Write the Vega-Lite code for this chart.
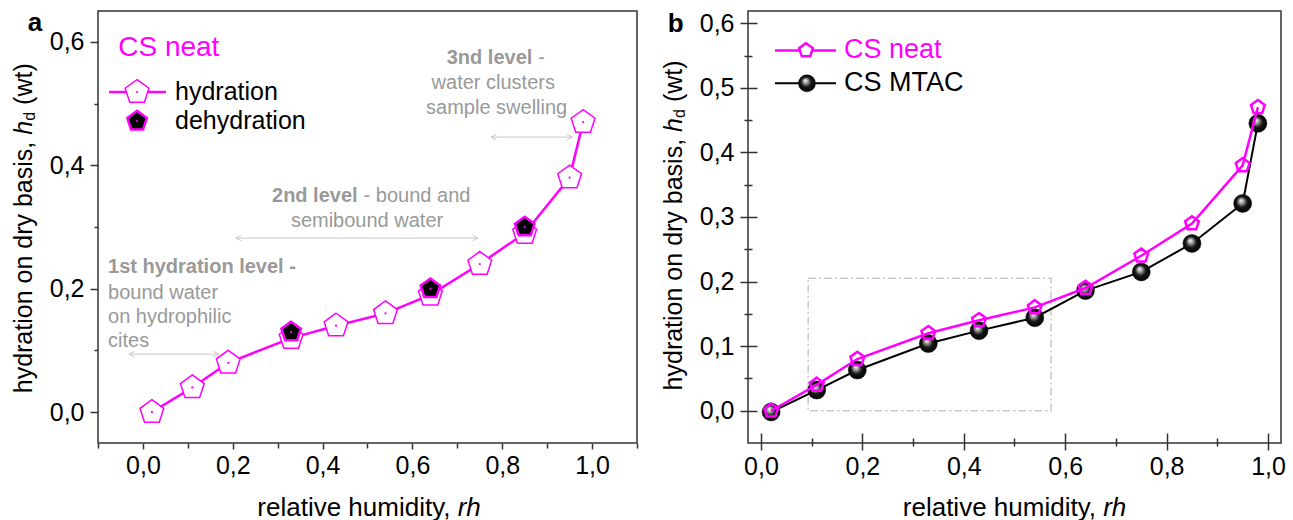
{
"$schema": "https://vega.github.io/schema/vega-lite/v6.json",
"background": "white",
"padding": {"left": 11, "top": 9, "right": 0, "bottom": 0},
"bounds": "flush",
"spacing": 111,
"config": {"view": {"stroke": "#333", "strokeWidth": 1.5}, "font": "Liberation Sans", "axis": {"labelFont": "Liberation Sans"}, "text": {"font": "Liberation Sans"}},
"datasets": {
 "hyd": [{"rh":0.02,"hd":0.0},{"rh":0.11,"hd":0.04},{"rh":0.19,"hd":0.08},{"rh":0.33,"hd":0.12},{"rh":0.43,"hd":0.14},{"rh":0.54,"hd":0.16},{"rh":0.64,"hd":0.19},{"rh":0.75,"hd":0.24},{"rh":0.85,"hd":0.29},{"rh":0.95,"hd":0.38},{"rh":0.98,"hd":0.47}],
 "dehyd": [{"rh":0.33,"hd":0.13},{"rh":0.64,"hd":0.2},{"rh":0.85,"hd":0.3}],
 "mtac": [{"rh":0.02,"hd":-0.002},{"rh":0.11,"hd":0.032},{"rh":0.19,"hd":0.063},{"rh":0.33,"hd":0.104},{"rh":0.43,"hd":0.124},{"rh":0.54,"hd":0.144},{"rh":0.64,"hd":0.186},{"rh":0.75,"hd":0.215},{"rh":0.85,"hd":0.259},{"rh":0.95,"hd":0.321},{"rh":0.98,"hd":0.445}],
 "a_arrows": [{"rh":0.775,"rh2":0.956,"hd":0.4457},{"rh":0.207,"rh2":0.746,"hd":0.282},{"rh":-0.031,"rh2":0.169,"hd":0.094}],
 "a_notes_center": [{"rh":0.78,"hd":0.533,"label":"water clusters"},{"rh":0.7875,"hd":0.4927,"label":"sample swelling"},{"rh":0.499,"hd":0.3096,"label":"semibound water"}],
 "a_notes_left": [{"rh":-0.0777,"hd":0.1929,"label":"bound water"},{"rh":-0.0777,"hd":0.154,"label":"on hydrophilic"},{"rh":-0.0777,"hd":0.115,"label":"cites"}],
 "a_notes_after": [{"rh":0.867,"hd":0.574,"label":"-"},{"rh":0.478,"hd":0.35,"label":"- bound and"}],
 "a_notes_bold_right": [{"rh":0.867,"hd":0.574,"label":"3nd level"},{"rh":0.478,"hd":0.35,"label":"2nd level"}],
 "a_notes_bold_left": [{"rh":-0.0777,"hd":0.235,"label":"1st hydration level -"}]
},
"hconcat": [
{
 "width": 539, "height": 432,
 "encoding": {
  "x": {"field":"rh","type":"quantitative","scale":{"domain":[-0.1,1.1],"nice":false,"zero":false},"axis":null},
  "y": {"field":"hd","type":"quantitative","scale":{"domain":[-0.05,0.65],"nice":false,"zero":false},"axis":null}
 },
 "resolve": {"axis": {"x":"independent","y":"independent"}},
 "layer": [
  {"data":{"name":"a_arrows"},"mark":{"type":"rule","color":"#c8c8c8","strokeWidth":1},"encoding":{"x2":{"field":"rh2"}}},
  {"data":{"name":"a_arrows"},"mark":{"type":"point","shape":"M2,-1L0,0L2,1","filled":false,"stroke":"#c8c8c8","strokeWidth":1,"size":30,"opacity":1}},
  {"data":{"name":"a_arrows"},"mark":{"type":"point","shape":"M-2,-1L0,0L-2,1","filled":false,"stroke":"#c8c8c8","strokeWidth":1,"size":30,"opacity":1},
   "encoding":{"x":{"field":"rh2","type":"quantitative","scale":{"domain":[-0.1,1.1],"nice":false,"zero":false},"axis":null}}},
  {"data":{"name":"hyd"},"mark":{"type":"line","color":"#ff00ff","strokeWidth":2.5},
   "encoding":{
    "x":{"field":"rh","type":"quantitative","scale":{"domain":[-0.1,1.1],"nice":false,"zero":false},
     "axis":{"orient":"bottom","values":[0,0.2,0.4,0.6,0.8,1],"labelExpr":"replace(format(datum.value,'.1f'),'.',',')","domain":false,"grid":false,"tickSize":6,"tickWidth":1.5,"tickColor":"#333","labelFontSize":25,"labelColor":"#000","labelPadding":4,"title":null,"labelFlush":false,"labelOverlap":false}},
    "y":{"field":"hd","type":"quantitative","scale":{"domain":[-0.05,0.65],"nice":false,"zero":false},
     "axis":{"orient":"left","values":[0,0.2,0.4,0.6],"labelExpr":"replace(format(datum.value,'.1f'),'.',',')","domain":false,"grid":false,"tickSize":8,"tickWidth":1.5,"tickColor":"#333","labelFontSize":25,"labelColor":"#000","labelPadding":6,"title":null,"labelFlush":false,"labelOverlap":false}}
   }},
  {"data":{"name":"hyd"},"mark":{"type":"point","shape":"M0,-1L0.951,-0.309L0.588,0.809L-0.588,0.809L-0.951,-0.309Z","filled":true,"fill":"#ffffff","stroke":"#ff00ff","strokeWidth":1.5,"size":625,"opacity":1},
   "encoding":{
    "x":{"field":"rh","type":"quantitative","scale":{"domain":[-0.1,1.1],"nice":false,"zero":false},
     "axis":{"orient":"bottom","values":[-0.1,0.1,0.3,0.5,0.7,0.9,1.1],"labels":false,"domain":false,"grid":false,"tickSize":5,"tickWidth":1.5,"tickColor":"#333","title":null}},
    "y":{"field":"hd","type":"quantitative","scale":{"domain":[-0.05,0.65],"nice":false,"zero":false},
     "axis":{"orient":"left","values":[0.1,0.3,0.5],"labels":false,"domain":false,"grid":false,"tickSize":4,"tickWidth":1.5,"tickColor":"#333","title":null}}
   }},
  {"data":{"name":"hyd"},"mark":{"type":"point","shape":"circle","filled":true,"color":"#ff00ff","size":5,"opacity":1}},
  {"data":{"name":"dehyd"},"mark":{"type":"point","shape":"M0,-1L0.951,-0.309L0.588,0.809L-0.588,0.809L-0.951,-0.309Z","filled":true,"fill":"#000000","stroke":"#ff00ff","strokeWidth":2.5,"size":420,"opacity":1}},
  {"data":{"name":"dehyd"},"mark":{"type":"point","shape":"circle","filled":true,"color":"#ff00ff","size":5,"opacity":1}},
  {"data":{"name":"a_notes_center"},"mark":{"type":"text","align":"center","baseline":"middle","fontSize":20,"color":"#999999"},"encoding":{"text":{"field":"label"}}},
  {"data":{"name":"a_notes_left"},"mark":{"type":"text","align":"left","baseline":"middle","fontSize":20,"color":"#999999"},"encoding":{"text":{"field":"label"}}},
  {"data":{"name":"a_notes_after"},"mark":{"type":"text","align":"left","baseline":"middle","fontSize":20,"color":"#999999","dx":6},"encoding":{"text":{"field":"label"}}},
  {"data":{"name":"a_notes_bold_right"},"mark":{"type":"text","align":"right","baseline":"middle","fontSize":20,"fontWeight":"bold","color":"#999999"},"encoding":{"text":{"field":"label"}}},
  {"data":{"name":"a_notes_bold_left"},"mark":{"type":"text","align":"left","baseline":"middle","fontSize":20,"fontWeight":"bold","color":"#999999"},"encoding":{"text":{"field":"label"}}},
  {"data":{"values":[{"rh":-0.055,"hd":0.59,"label":"CS neat"}]},"mark":{"type":"text","align":"left","baseline":"middle","fontSize":28,"color":"#ff00ff"},"encoding":{"text":{"field":"label"}}},
  {"data":{"values":[{"rh":-0.0755,"rh2":0.0514,"hd":0.5186}]},"mark":{"type":"rule","color":"#ff00ff","strokeWidth":2.5},"encoding":{"x2":{"field":"rh2"}}},
  {"data":{"values":[{"rh":-0.013,"hd":0.5186}]},"mark":{"type":"point","shape":"M0,-1L0.951,-0.309L0.588,0.809L-0.588,0.809L-0.951,-0.309Z","filled":true,"fill":"#ffffff","stroke":"#ff00ff","strokeWidth":1.5,"size":625,"opacity":1}},
  {"data":{"values":[{"rh":-0.013,"hd":0.4716}]},"mark":{"type":"point","shape":"M0,-1L0.951,-0.309L0.588,0.809L-0.588,0.809L-0.951,-0.309Z","filled":true,"fill":"#000000","stroke":"#ff00ff","strokeWidth":2.5,"size":420,"opacity":1}},
  {"data":{"values":[{"rh":-0.013,"hd":0.5186},{"rh":-0.013,"hd":0.4716}]},"mark":{"type":"point","shape":"circle","filled":true,"color":"#ff00ff","size":5,"opacity":1}},
  {"data":{"values":[{"rh":0.0715,"hd":0.5186,"label":"hydration"},{"rh":0.0715,"hd":0.4716,"label":"dehydration"}]},"mark":{"type":"text","align":"left","baseline":"middle","fontSize":25,"color":"#000000"},"encoding":{"text":{"field":"label"}}},
  {"data":{"values":[{"rh":-0.2645,"hd":0.298}]},"mark":{"type":"text","text":"hydration on dry basis,","angle":270,"align":"right","baseline":"middle","dx":86.5,"fontSize":25,"color":"#000000"}},
  {"data":{"values":[{"rh":-0.2645,"hd":0.298}]},"mark":{"type":"text","text":"h","angle":270,"align":"left","baseline":"middle","dx":93.5,"fontSize":25,"fontStyle":"italic","color":"#000000"}},
  {"data":{"values":[{"rh":-0.2645,"hd":0.298}]},"mark":{"type":"text","text":"d","angle":270,"align":"left","baseline":"middle","dx":107.4,"dy":6,"fontSize":16,"color":"#000000"}},
  {"data":{"values":[{"rh":-0.2645,"hd":0.298}]},"mark":{"type":"text","text":"(wt)","angle":270,"align":"left","baseline":"middle","dx":123.3,"fontSize":25,"color":"#000000"}},
  {"data":{"values":[{"rh":0.6927,"hd":-0.1556}]},"mark":{"type":"text","text":"relative humidity,","align":"right","baseline":"middle","dx":-3.6,"fontSize":26,"color":"#000000"}},
  {"data":{"values":[{"rh":0.6927,"hd":-0.1556}]},"mark":{"type":"text","text":"rh","align":"left","baseline":"middle","dx":3.6,"fontSize":26,"fontStyle":"italic","color":"#000000"}},
  {"data":{"values":[{"rh":-0.2403,"hd":0.6175,"label":"a"}]},"mark":{"type":"text","align":"center","baseline":"alphabetic","fontSize":26,"fontWeight":"bold","color":"#000000"},"encoding":{"text":{"field":"label"}}}
 ]
},
{
 "width": 533, "height": 432,
 "encoding": {
  "x": {"field":"rh","type":"quantitative","scale":{"domain":[-0.0256,1.0256],"nice":false,"zero":false},"axis":null},
  "y": {"field":"hd","type":"quantitative","scale":{"domain":[-0.05,0.619],"nice":false,"zero":false},"axis":null}
 },
 "resolve": {"axis": {"x":"independent","y":"independent"}},
 "layer": [
  {"data":{"values":[{"rh":0.093,"rh2":0.572,"hd":0.0,"hd2":0.205}]},"mark":{"type":"rect","fillOpacity":0,"fill":"#ffffff","stroke":"#c8c8c8","strokeWidth":1.5,"strokeDash":[8,3,2,3]},"encoding":{"x2":{"field":"rh2"},"y2":{"field":"hd2"}}},
  {"data":{"name":"mtac"},"mark":{"type":"line","color":"#000000","strokeWidth":2},
   "encoding":{
    "x":{"field":"rh","type":"quantitative","scale":{"domain":[-0.0256,1.0256],"nice":false,"zero":false},
     "axis":{"orient":"bottom","offset":-10,"values":[0,0.2,0.4,0.6,0.8,1],"labelExpr":"replace(format(datum.value,'.1f'),'.',',')","domain":false,"grid":false,"tickSize":17,"tickWidth":1.5,"tickColor":"#333","labelFontSize":25,"labelColor":"#000","labelPadding":4,"title":null,"labelFlush":false,"labelOverlap":false}},
    "y":{"field":"hd","type":"quantitative","scale":{"domain":[-0.05,0.619],"nice":false,"zero":false},
     "axis":{"orient":"left","offset":-9,"values":[0,0.1,0.2,0.3,0.4,0.5,0.6],"labelExpr":"replace(format(datum.value,'.1f'),'.',',')","domain":false,"grid":false,"tickSize":17,"tickWidth":1.5,"tickColor":"#333","labelFontSize":25,"labelColor":"#000","labelPadding":6,"title":null,"labelFlush":false,"labelOverlap":false}}
   }},
  {"data":{"name":"mtac"},"mark":{"type":"point","shape":"circle","filled":true,"size":324,"opacity":1,"stroke":"#000000","strokeWidth":0.5,
    "fill":{"gradient":"radial","x1":0.4,"y1":0.33,"r1":0,"x2":0.5,"y2":0.5,"r2":0.55,"stops":[{"offset":0,"color":"#ffffff"},{"offset":0.22,"color":"#aaaaaa"},{"offset":0.55,"color":"#151515"},{"offset":1,"color":"#000000"}]}},
   "encoding":{
    "x":{"field":"rh","type":"quantitative","scale":{"domain":[-0.0256,1.0256],"nice":false,"zero":false},
     "axis":{"orient":"bottom","offset":-5,"values":[0.1,0.3,0.5,0.7,0.9],"labels":false,"domain":false,"grid":false,"tickSize":8,"tickWidth":1.5,"tickColor":"#333","title":null}},
    "y":{"field":"hd","type":"quantitative","scale":{"domain":[-0.05,0.619],"nice":false,"zero":false},
     "axis":{"orient":"left","offset":-4,"values":[0.05,0.15,0.25,0.35,0.45,0.55],"labels":false,"domain":false,"grid":false,"tickSize":8,"tickWidth":1.5,"tickColor":"#333","title":null}}
   }},
  {"data":{"name":"hyd"},"mark":{"type":"line","color":"#ff00ff","strokeWidth":2.5}},
  {"data":{"name":"hyd"},"mark":{"type":"point","shape":"M0,-1L0.951,-0.309L0.588,0.809L-0.588,0.809L-0.951,-0.309Z","filled":false,"stroke":"#ff00ff","strokeWidth":2.5,"size":210,"opacity":1}},
  {"data":{"values":[{"rh":0.0276,"rh2":0.148,"hd":0.558}]},"mark":{"type":"rule","color":"#ff00ff","strokeWidth":2.5},"encoding":{"x2":{"field":"rh2"}}},
  {"data":{"values":[{"rh":0.0276,"rh2":0.148,"hd":0.507}]},"mark":{"type":"rule","color":"#000000","strokeWidth":2},"encoding":{"x2":{"field":"rh2"}}},
  {"data":{"values":[{"rh":0.0888,"hd":0.558}]},"mark":{"type":"point","shape":"M0,-1L0.951,-0.309L0.588,0.809L-0.588,0.809L-0.951,-0.309Z","filled":true,"fill":"#ffffff","stroke":"#ff00ff","strokeWidth":2.5,"size":210,"opacity":1}},
  {"data":{"values":[{"rh":0.0907,"hd":0.507}]},"mark":{"type":"point","shape":"circle","filled":true,"size":289,"opacity":1,"stroke":"#000000","strokeWidth":0.5,
    "fill":{"gradient":"radial","x1":0.4,"y1":0.33,"r1":0,"x2":0.5,"y2":0.5,"r2":0.55,"stops":[{"offset":0,"color":"#ffffff"},{"offset":0.22,"color":"#aaaaaa"},{"offset":0.55,"color":"#151515"},{"offset":1,"color":"#000000"}]}}},
  {"data":{"values":[{"rh":0.1637,"hd":0.558,"label":"CS neat"}]},"mark":{"type":"text","align":"left","baseline":"middle","fontSize":27,"color":"#ff00ff"},"encoding":{"text":{"field":"label"}}},
  {"data":{"values":[{"rh":0.1637,"hd":0.507,"label":"CS MTAC"}]},"mark":{"type":"text","align":"left","baseline":"middle","fontSize":27,"color":"#000000"},"encoding":{"text":{"field":"label"}}},
  {"data":{"values":[{"rh":-0.1706,"hd":0.287}]},"mark":{"type":"text","text":"hydration on dry basis,","angle":270,"align":"right","baseline":"middle","dx":86.5,"fontSize":25,"color":"#000000"}},
  {"data":{"values":[{"rh":-0.1706,"hd":0.287}]},"mark":{"type":"text","text":"h","angle":270,"align":"left","baseline":"middle","dx":93.5,"fontSize":25,"fontStyle":"italic","color":"#000000"}},
  {"data":{"values":[{"rh":-0.1706,"hd":0.287}]},"mark":{"type":"text","text":"d","angle":270,"align":"left","baseline":"middle","dx":107.4,"dy":6,"fontSize":16,"color":"#000000"}},
  {"data":{"values":[{"rh":-0.1706,"hd":0.287}]},"mark":{"type":"text","text":"(wt)","angle":270,"align":"left","baseline":"middle","dx":123.3,"fontSize":25,"color":"#000000"}},
  {"data":{"values":[{"rh":0.6677,"hd":-0.151}]},"mark":{"type":"text","text":"relative humidity,","align":"right","baseline":"middle","dx":-3.6,"fontSize":26,"color":"#000000"}},
  {"data":{"values":[{"rh":0.6677,"hd":-0.151}]},"mark":{"type":"text","text":"rh","align":"left","baseline":"middle","dx":3.6,"fontSize":26,"fontStyle":"italic","color":"#000000"}},
  {"data":{"values":[{"rh":-0.168,"hd":0.587,"label":"b"}]},"mark":{"type":"text","align":"center","baseline":"alphabetic","fontSize":26,"fontWeight":"bold","color":"#000000"},"encoding":{"text":{"field":"label"}}}
 ]
}
]
}
